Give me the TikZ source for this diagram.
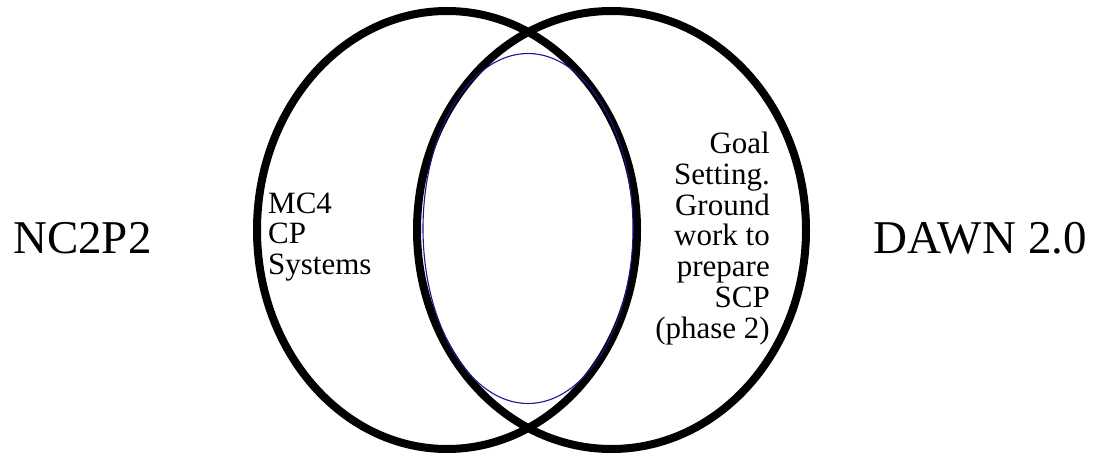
\documentclass[tikz,border=0pt]{standalone}
\usepackage{fontspec}
\setmainfont{Liberation Serif}
\usetikzlibrary{shapes.geometric}
\definecolor{innerblue}{RGB}{24,24,150}
\begin{document}
\begin{tikzpicture}[x=1pt,y=-1pt,
  setring/.style={draw=black,line width=8pt,ellipse,inner sep=0pt,outer sep=0pt},
  corering/.style={draw=innerblue,line width=1.1pt,ellipse,inner sep=0pt,outer sep=0pt},
  bigname/.style={font=\fontsize{47}{47}\selectfont,inner sep=0pt},
  notes/.style={font=\fontsize{31}{30.7}\selectfont,inner sep=0pt}]
  \useasboundingbox (0,0) rectangle (1100,455);
  % the two sets
  \node[setring,minimum width=380pt,minimum height=438pt] (left) at (447,230) {};
  \node[setring,minimum width=389pt,minimum height=438pt] (right) at (611.5,230) {};
  % overlap region, lying along the inner edges of the rings
  \node[corering,minimum width=210pt,minimum height=350pt] (core) at (528,228.5) {};
  % set names
  \node[bigname,anchor=base west] (nc) at (13,253) {NC2P2};
  \node[bigname,anchor=base east] (dawn) at (1087,253) {DAWN 2.0};
  % contents of each set
  \node[notes,anchor=base west,align=left] (mc) at (268,274.5) {MC4\\CP\\Systems};
  \node[notes,anchor=base east,align=right] (goal) at (770,338) {Goal\\Setting.\\Ground\\work to\\prepare\\SCP\\(phase 2)};
\end{tikzpicture}
\end{document}
